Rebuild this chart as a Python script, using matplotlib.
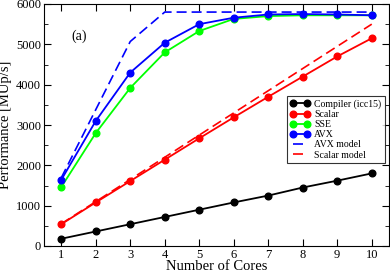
import matplotlib
matplotlib.use("Agg")
import matplotlib.pyplot as plt
import numpy as np

plt.rcParams['font.family'] = ['Liberation Serif', 'DejaVu Serif']

cores = [1, 2, 3, 4, 5, 6, 7, 8, 9, 10]
compiler = [180, 360, 540, 720, 900, 1080, 1250, 1450, 1620, 1800]
scalar = [540, 1080, 1610, 2140, 2670, 3190, 3700, 4200, 4700, 5150]
sse = [1460, 2800, 3920, 4800, 5330, 5630, 5700, 5720, 5720, 5720]
avx = [1640, 3100, 4300, 5040, 5500, 5660, 5740, 5750, 5740, 5720]
avx_model = [1690, 3380, 5070, 5800, 5800, 5800, 5800, 5800, 5800, 5800]
scalar_model = [550, 1100, 1650, 2200, 2750, 3300, 3850, 4400, 4950, 5500]

fig = plt.figure(figsize=(3.9, 2.72), dpi=100)
ax = fig.add_axes([44/390, 26/272, 345/390, 242/272])

ax.plot(cores, compiler, 'k-o', lw=1.3, ms=4.8, label='Compiler (icc15)')
ax.plot(cores, scalar, '-o', color='#ff0000', lw=1.3, ms=4.8, label='Scalar')
ax.plot(cores, sse, '-o', color='#00ff00', lw=1.3, ms=4.8, label='SSE')
ax.plot(cores, avx, '-o', color='#0000ff', lw=1.3, ms=4.8, label='AVX')
ax.plot(cores, avx_model, '--', color='#0000ff', lw=1.2, dashes=(6, 3), label='AVX model')
ax.plot(cores, scalar_model, '--', color='#ff0000', lw=1.2, dashes=(6, 3), label='Scalar model')

ax.set_xlim(0.5, 10.5)
ax.set_ylim(0, 6000)
ax.set_xticks(cores)
ax.set_yticks(np.arange(0, 6001, 1000))
ax.set_yticks(np.arange(0, 6001, 500), minor=True)
ax.tick_params(direction='in', top=True, right=True, labelsize=9, length=5, pad=2)
ax.tick_params(which='minor', direction='in', right=True, left=True, length=3)
ax.set_xlabel('Number of Cores', fontsize=10.5)
ax.set_ylabel('Performance [MUp/s]', fontsize=10.5)
ax.xaxis.set_label_coords(0.5, -0.1, transform=ax.transAxes)
ax.xaxis.label.set_va('baseline')
ax.yaxis.set_label_coords(-0.092, 0.5, transform=ax.transAxes)
ax.text(1.3, 5100, '(a)', fontsize=10)

leg = ax.legend(loc='lower right', fontsize=7, fancybox=False, edgecolor='black',
                handlelength=2.0, numpoints=2, markerscale=1.0, borderpad=0.35,
                labelspacing=0.12, handletextpad=0.5, borderaxespad=0,
                bbox_to_anchor=(0.988, 0.343))
leg.get_frame().set_linewidth(0.8)

fig.savefig('out.png', dpi=100)
